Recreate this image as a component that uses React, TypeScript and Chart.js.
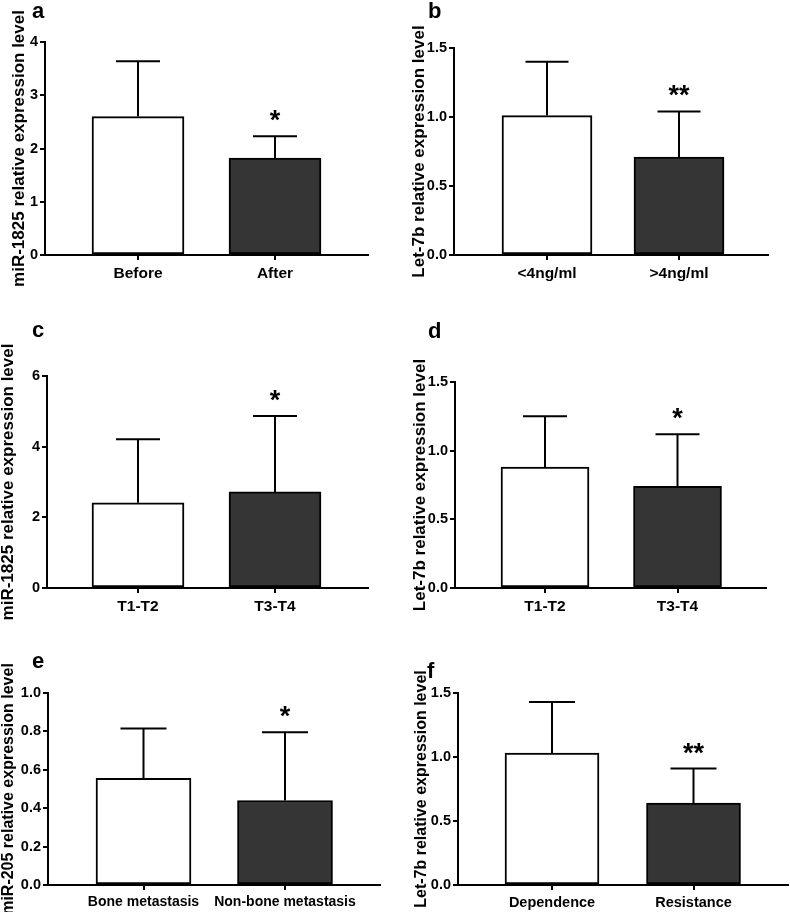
import React, { useEffect, useRef } from "react";
import { Chart, registerables } from "chart.js";

Chart.register(...registerables);

const FONT = 'Arial, "Liberation Sans", Helvetica, sans-serif';

// ---------- Panel a ----------
const aCategories = ["Before", "After"];
const aMeans = [2.6, 1.82];
const aErrors = [1.04, 0.41];
const aStars = ["", "*"];
const aYTicks = [0, 1, 2, 3, 4];
const aYTickLabels = ["0", "1", "2", "3", "4"];
const aTitle = "miR-1825 relative expression level";

// ---------- Panel b ----------
const bCategories = ["<4ng/ml", ">4ng/ml"];
const bMeans = [1.01, 0.71];
const bErrors = [0.39, 0.33];
const bStars = ["", "**"];
const bYTicks = [0, 0.5, 1.0, 1.5];
const bYTickLabels = ["0.0", "0.5", "1.0", "1.5"];
const bTitle = "Let-7b relative expression level";

// ---------- Panel c ----------
const cCategories = ["T1-T2", "T3-T4"];
const cMeans = [2.41, 2.72];
const cErrors = [1.8, 2.15];
const cStars = ["", "*"];
const cYTicks = [0, 2, 4, 6];
const cYTickLabels = ["0", "2", "4", "6"];
const cTitle = "miR-1825 relative expression level";

// ---------- Panel d ----------
const dCategories = ["T1-T2", "T3-T4"];
const dMeans = [0.88, 0.74];
const dErrors = [0.37, 0.38];
const dStars = ["", "*"];
const dYTicks = [0, 0.5, 1.0, 1.5];
const dYTickLabels = ["0.0", "0.5", "1.0", "1.5"];
const dTitle = "Let-7b relative expression level";

// ---------- Panel e ----------
const eCategories = ["Bone metastasis", "Non-bone metastasis"];
const eMeans = [0.555, 0.44];
const eErrors = [0.26, 0.355];
const eStars = ["", "*"];
const eYTicks = [0, 0.2, 0.4, 0.6, 0.8, 1.0];
const eYTickLabels = ["0.0", "0.2", "0.4", "0.6", "0.8", "1.0"];
const eTitle = "miR-205 relative expression level";

// ---------- Panel f ----------
const fCategories = ["Dependence", "Resistance"];
const fMeans = [1.03, 0.64];
const fErrors = [0.4, 0.27];
const fStars = ["", "**"];
const fYTicks = [0, 0.5, 1.0, 1.5];
const fYTickLabels = ["0.0", "0.5", "1.0", "1.5"];
const fTitle = "Let-7b relative expression level";

const BAR_COLORS = ["#ffffff", "#353535"];

type PanelCfg = {
  letter: string;
  categories: string[];
  means: number[];
  errors: number[];
  stars: string[];
  yTicks: number[];
  yTickLabels: string[];
  title: string;
  // layout (canvas-local pixels)
  x: number;
  y: number;
  w: number;
  h: number;
  area: { l: number; r: number; t: number; b: number };
  centers: [number, number];
  barWidth: number;
  capWidth: number;
  titleX: number;
  titleSize: number;
  xFontSize: number;
  letterPos: [number, number];
};

const panels: PanelCfg[] = [
  {
    letter: "a", categories: aCategories, means: aMeans, errors: aErrors, stars: aStars,
    yTicks: aYTicks, yTickLabels: aYTickLabels, title: aTitle,
    x: 0, y: 0, w: 395, h: 340,
    area: { l: 45, r: 368, t: 42, b: 255 }, centers: [138, 275], barWidth: 92, capWidth: 44,
    titleX: 24, titleSize: 17, xFontSize: 15.5, letterPos: [32, 18],
  },
  {
    letter: "b", categories: bCategories, means: bMeans, errors: bErrors, stars: bStars,
    yTicks: bYTicks, yTickLabels: bYTickLabels, title: bTitle,
    x: 395, y: 0, w: 395, h: 340,
    area: { l: 59, r: 373, t: 48, b: 255 }, centers: [152, 284], barWidth: 90, capWidth: 43,
    titleX: 29, titleSize: 17, xFontSize: 15.5, letterPos: [33, 18],
  },
  {
    letter: "c", categories: cCategories, means: cMeans, errors: cErrors, stars: cStars,
    yTicks: cYTicks, yTickLabels: cYTickLabels, title: cTitle,
    x: 0, y: 300, w: 395, h: 340,
    area: { l: 47, r: 368, t: 76, b: 288 }, centers: [138, 275], barWidth: 92, capWidth: 44,
    titleX: 13, titleSize: 17, xFontSize: 15.5, letterPos: [32, 37],
  },
  {
    letter: "d", categories: dCategories, means: dMeans, errors: dErrors, stars: dStars,
    yTicks: dYTicks, yTickLabels: dYTickLabels, title: dTitle,
    x: 395, y: 300, w: 395, h: 340,
    area: { l: 60, r: 371, t: 82, b: 288 }, centers: [150, 282.5], barWidth: 88, capWidth: 44,
    titleX: 30, titleSize: 17, xFontSize: 15.5, letterPos: [33, 38],
  },
  {
    letter: "e", categories: eCategories, means: eMeans, errors: eErrors, stars: eStars,
    yTicks: eYTicks, yTickLabels: eYTickLabels, title: eTitle,
    x: 0, y: 600, w: 395, h: 312,
    area: { l: 48, r: 380, t: 93, b: 285 }, centers: [143.5, 285], barWidth: 95, capWidth: 46,
    titleX: 13, titleSize: 16, xFontSize: 14, letterPos: [32, 68],
  },
  {
    letter: "f", categories: fCategories, means: fMeans, errors: fErrors, stars: fStars,
    yTicks: fYTicks, yTickLabels: fYTickLabels, title: fTitle,
    x: 395, y: 600, w: 395, h: 312,
    area: { l: 63, r: 393, t: 93, b: 285 }, centers: [157, 298.5], barWidth: 94, capWidth: 46,
    titleX: 31, titleSize: 16, xFontSize: 14.5, letterPos: [32, 78],
  },
];

function Panel({ cfg }: { cfg: PanelCfg }) {
  const ref = useRef<HTMLCanvasElement>(null);

  useEffect(() => {
    const canvas = ref.current;
    if (!canvas) return;
    const { area, centers } = cfg;
    const unit = centers[1] - centers[0];
    const xMin = 1 - (centers[0] - area.l) / unit;
    const xMax = 2 + (area.r - centers[1]) / unit;

    const overlay = {
      id: "overlay" + cfg.letter,
      afterDraw(chart: any) {
        const ctx: CanvasRenderingContext2D = chart.ctx;
        const xs = chart.scales.x;
        const ys = chart.scales.y;
        const ca = chart.chartArea;
        ctx.save();
        ctx.strokeStyle = "#000";
        ctx.fillStyle = "#000";
        ctx.lineWidth = 2;
        cfg.means.forEach((m, i) => {
          const px = xs.getPixelForValue(i + 1);
          const yTop = ys.getPixelForValue(m);
          const yErr = ys.getPixelForValue(m + cfg.errors[i]);
          ctx.beginPath();
          ctx.moveTo(px, yTop);
          ctx.lineTo(px, yErr);
          ctx.moveTo(px - cfg.capWidth / 2, yErr);
          ctx.lineTo(px + cfg.capWidth / 2, yErr);
          ctx.stroke();
          if (cfg.stars[i]) {
            ctx.font = `bold 27px ${FONT}`;
            ctx.textAlign = "center";
            ctx.textBaseline = "alphabetic";
            ctx.fillText(cfg.stars[i], px, yErr - 7);
          }
        });
        // y-axis title
        ctx.save();
        ctx.translate(cfg.titleX, (ca.top + ca.bottom) / 2);
        ctx.rotate(-Math.PI / 2);
        ctx.font = `bold ${cfg.titleSize}px ${FONT}`;
        ctx.textAlign = "center";
        ctx.textBaseline = "alphabetic";
        ctx.fillText(cfg.title, 0, 0);
        ctx.restore();
        // panel letter
        ctx.font = `bold 22px ${FONT}`;
        ctx.textAlign = "left";
        ctx.textBaseline = "alphabetic";
        ctx.fillText(cfg.letter, cfg.letterPos[0], cfg.letterPos[1]);
        ctx.restore();
      },
    };

    const chart = new Chart(canvas, {
      type: "bar",
      data: {
        datasets: [
          {
            data: cfg.means.map((m, i) => ({ x: i + 1, y: m })),
            backgroundColor: BAR_COLORS,
            borderColor: "#000",
            borderWidth: 2,
            borderSkipped: false,
            barThickness: cfg.barWidth,
          } as any,
        ],
      },
      options: {
        animation: false,
        responsive: false,
        maintainAspectRatio: false,
        events: [],
        layout: {
          padding: { left: 0, top: area.t, right: cfg.w - area.r, bottom: 0 },
        },
        plugins: {
          legend: { display: false },
          tooltip: { enabled: false },
        },
        scales: {
          x: {
            type: "linear",
            offset: false,
            min: xMin,
            max: xMax,
            afterBuildTicks: (s: any) => {
              s.ticks = [{ value: 1 }, { value: 2 }];
            },
            afterFit: (s: any) => {
              s.height = cfg.h - area.b;
            },
            grid: {
              display: true,
              offset: false,
              drawOnChartArea: false,
              drawTicks: true,
              tickLength: 5,
              color: "#000",
              lineWidth: 2,
            },
            border: { display: true, color: "#000", width: 2 },
            ticks: {
              autoSkip: false,
              maxRotation: 0,
              minRotation: 0,
              padding: 4,
              color: "#000",
              font: { family: FONT, size: cfg.xFontSize, weight: "bold" },
              callback: (v: any) => cfg.categories[Math.round(Number(v)) - 1] ?? "",
            },
          },
          y: {
            type: "linear",
            min: cfg.yTicks[0],
            max: cfg.yTicks[cfg.yTicks.length - 1],
            afterBuildTicks: (s: any) => {
              s.ticks = cfg.yTicks.map((v) => ({ value: v }));
            },
            afterFit: (s: any) => {
              s.width = area.l;
            },
            grid: {
              display: true,
              drawOnChartArea: false,
              drawTicks: true,
              tickLength: 5,
              color: "#000",
              lineWidth: 2,
            },
            border: { display: true, color: "#000", width: 2 },
            ticks: {
              padding: 2,
              color: "#000",
              font: { family: FONT, size: 14.5, weight: "bold" },
              callback: (_v: any, i: number) => cfg.yTickLabels[i] ?? "",
            },
          },
        },
      } as any,
      plugins: [overlay],
    });
    return () => chart.destroy();
  }, [cfg]);

  return (
    <canvas
      ref={ref}
      width={cfg.w}
      height={cfg.h}
      style={{ position: "absolute", left: cfg.x, top: cfg.y, width: cfg.w, height: cfg.h }}
    />
  );
}

export default function App() {
  return (
    <div
      style={{
        position: "absolute",
        left: 0,
        top: 0,
        width: 790,
        height: 912,
        background: "#ffffff",
        overflow: "hidden",
      }}
    >
      {panels.map((p) => (
        <Panel key={p.letter} cfg={p} />
      ))}
    </div>
  );
}
